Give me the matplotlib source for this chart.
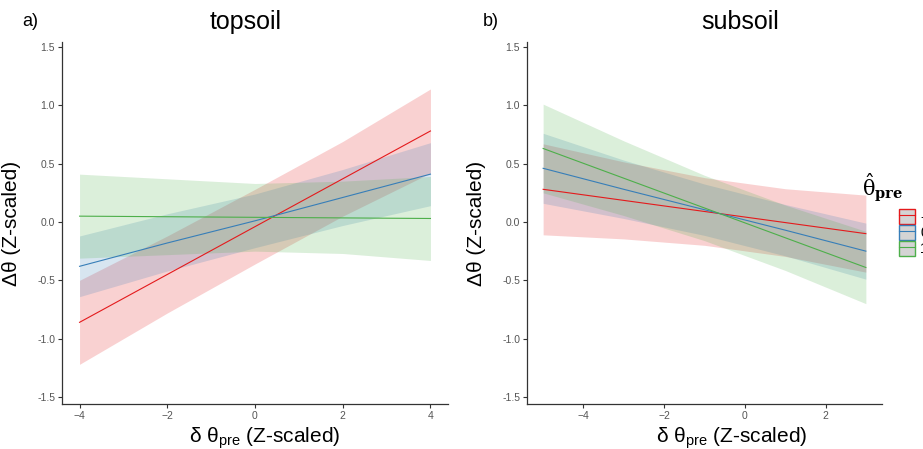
import numpy as np
import matplotlib
matplotlib.use('Agg')
import matplotlib.pyplot as plt
from matplotlib.patches import Patch, Rectangle
from matplotlib.lines import Line2D

plt.rcParams['font.family'] = ['Liberation Sans', 'DejaVu Sans']
plt.rcParams['mathtext.fontset'] = 'custom'
plt.rcParams['mathtext.rm'] = 'Liberation Sans'
plt.rcParams['mathtext.it'] = 'Liberation Sans:italic'

# groups of theta_pre (legend)
groups = ['-1', '0', '1']
colors = ['#E41A1C', '#377EB8', '#4DAF4A']

# topsoil: fitted lines and confidence bands
top_x = [-4, -2, 0, 2, 4]
top_fit = {
    '-1': [-0.86, -0.45, -0.04, 0.37, 0.78],
    '0': [-0.38, -0.18, 0.01, 0.21, 0.41],
    '1': [0.05, 0.045, 0.04, 0.035, 0.03],
}
top_lo = {
    '-1': [-1.22, -0.78, -0.36, 0.05, 0.42],
    '0': [-0.64, -0.42, -0.22, -0.03, 0.14],
    '1': [-0.31, -0.28, -0.25, -0.27, -0.33],
}
top_hi = {
    '-1': [-0.50, -0.12, 0.28, 0.69, 1.14],
    '0': [-0.12, 0.07, 0.24, 0.45, 0.68],
    '1': [0.41, 0.37, 0.33, 0.35, 0.39],
}

# subsoil
sub_x = [-5, -3, -1, 1, 3]
sub_fit = {
    '-1': [0.28, 0.185, 0.09, -0.005, -0.10],
    '0': [0.46, 0.28, 0.105, -0.07, -0.25],
    '1': [0.63, 0.375, 0.12, -0.135, -0.39],
}
sub_lo = {
    '-1': [-0.11, -0.145, -0.20, -0.295, -0.43],
    '0': [0.16, 0.03, -0.115, -0.29, -0.49],
    '1': [0.25, 0.055, -0.16, -0.415, -0.70],
}
sub_hi = {
    '-1': [0.67, 0.515, 0.38, 0.285, 0.23],
    '0': [0.76, 0.53, 0.325, 0.15, -0.01],
    '1': [1.01, 0.695, 0.40, 0.145, -0.08],
}

yticks = [-1.5, -1.0, -0.5, 0.0, 0.5, 1.0, 1.5]

W, H = 923, 449
fig = plt.figure(figsize=(W / 100, H / 100), dpi=100)

ax1 = fig.add_axes([62 / W, 1 - 404 / H, 386 / W, 361.7 / H])
ax2 = fig.add_axes([527 / W, 1 - 404 / H, 355 / W, 361.7 / H])


def draw(ax, x, fit, lo, hi):
    for g, c in zip(groups, colors):
        ax.fill_between(x, lo[g], hi[g], color=c, alpha=0.2, linewidth=0)
        ax.plot(x, fit[g], color=c, linewidth=0.8)
    ax.set_ylim(-1.56, 1.54)
    ax.set_yticks(yticks)
    ax.set_yticklabels([f'{v:.1f}' for v in yticks])
    for s in ['top', 'right']:
        ax.spines[s].set_visible(False)
    for s in ['left', 'bottom']:
        ax.spines[s].set_color('#333333')
        ax.spines[s].set_linewidth(0.9)
    ax.tick_params(direction='out', length=3, width=0.8, color='#333333',
                   labelsize=7.5, labelcolor='#555555', pad=2)
    ax.set_ylabel('Δθ (Z-scaled)', fontsize=15)
    ax.set_xlabel(r'δ θ$_{\rm pre}$ (Z-scaled)', fontsize=15)
    ax.xaxis.label.set_va('center')


draw(ax1, top_x, top_fit, top_lo, top_hi)
ax1.set_xlim(-4.4, 4.4)
ax1.set_xticks([-4, -2, 0, 2, 4])
ax1.yaxis.set_label_coords(-0.106, 0.5)
ax1.xaxis.set_label_coords(0.526, -0.094)

draw(ax2, sub_x, sub_fit, sub_lo, sub_hi)
ax2.set_xlim(-5.4, 3.4)
ax2.set_xticks([-4, -2, 0, 2])
ax2.yaxis.set_label_coords(-0.115, 0.5)
ax2.xaxis.set_label_coords(0.577, -0.094)

# the right panel's tick labels are cut on the left in the original
fig.add_artist(Rectangle((494 / W, 40 / H), 5.5 / W, 370 / H, transform=fig.transFigure,
                         facecolor='white', edgecolor='none', zorder=10))

fig.text(246 / W, 1 - 22 / H, 'topsoil', fontsize=18, ha='center', va='center')
fig.text(740 / W, 1 - 22 / H, 'subsoil', fontsize=18, ha='center', va='center')
fig.text(22 / W, 1 - 22 / H, 'a)', fontsize=13, ha='left', va='center')
fig.text(483 / W, 1 - 22 / H, 'b)', fontsize=13, ha='left', va='center')

# legend (runs off the right edge like the reference)
fig.text(862 / W, 1 - 188 / H, r'$\hat{\mathrm{θ}}_{\mathbf{pre}}$', fontsize=15,
         math_fontfamily='dejavuserif', ha='left', va='center')
handles = [(Patch(facecolor='#d4d4d4', edgecolor=c, linewidth=1.0),
            Line2D([], [], color=c, linewidth=0.8)) for c in colors]
fig.legend(handles, groups, loc='upper left', bbox_to_anchor=(889 / W, 1 - 199 / H),
           frameon=False, fontsize=10, handlelength=1.2, handleheight=1.3,
           labelspacing=0.05, handletextpad=0.35, borderpad=0.2)

fig.savefig('out.png', dpi=100)
